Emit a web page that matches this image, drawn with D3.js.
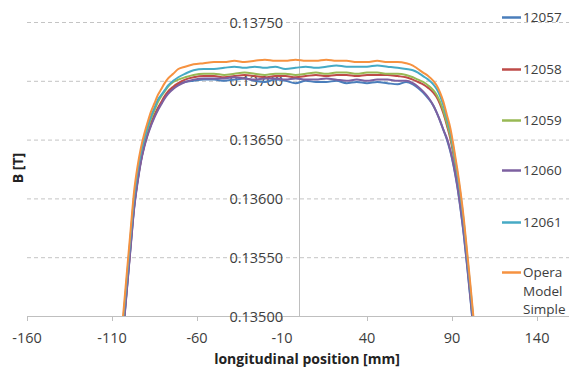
<!doctype html>
<html lang="en">
<head>
 <meta charset="utf-8">
 <script src="https://cdn.jsdelivr.net/npm/d3@7"></script>
 <title>B along longitudinal position</title>
 <style>
  body { margin: 0; background: #fff; }
  svg { display: block; font-family: "Open Sans", sans-serif; }
  .grid { stroke: #c4c4c4; stroke-width: 1; stroke-dasharray: 4,3; }
  .axisline { stroke: #bfbfbf; stroke-width: 1; }
  .tick-label { fill: #3d3d3d; font-size: 14.5px; }
  .title { fill: #222; font-size: 14px; font-weight: bold; }
  .series { fill: none; stroke-width: 2; }
  .legend-label { fill: #3d3d3d; font-size: 13.5px; }
 </style>
</head>
<body>
<div id="chart"></div>

<script>
    // positions along the magnet [mm]
    var pos = [-107, -105, -103, -101, -99, -97, -95, -93, -91, -89, -87, -85, -83, -81, -79, -77, -74, -71, -67, -62, -56,
               -50, -44, -38, -32, -26, -20, -14, -8, -2, 4, 10, 16, 22, 28, 34, 40, 46, 52, 58,
               63, 67, 70, 73, 76, 79, 81, 83, 85, 87, 89, 91, 93, 95, 97, 99, 101, 103, 105];

    var b12057 = [.13426, .13461, .13494, .13527, .13560, .13592, .13614, .13632, .13645, .13655, .13663, .13670, .13676, .13681, .13686, .13690, .13694, .13697, .13699, .13700, .13701,
                  .13701, .13700, .13701, .13702, .13700, .13699, .13701, .13700, .13698, .13700, .13699, .13699, .13700, .13698, .13699, .13698, .13699, .13698, .13697,
                  .13699, .13697, .13694, .13690, .13685, .13679, .13673, .13666, .13658, .13650, .13640, .13627, .13611, .13591, .13568, .13541, .13512, .13482, .13451];
    var b12058 = [.13427, .13462, .13495, .13528, .13561, .13593, .13615, .13632, .13645, .13655, .13664, .13671, .13677, .13682, .13687, .13691, .13695, .13698, .13701, .13703, .13704,
                  .13704, .13703, .13704, .13705, .13704, .13703, .13704, .13704, .13703, .13704, .13705, .13704, .13705, .13705, .13704, .13705, .13705, .13705, .13704,
                  .13703, .13701, .13699, .13697, .13694, .13690, .13686, .13680, .13672, .13662, .13651, .13636, .13618, .13598, .13574, .13545, .13516, .13485, .13454];
    var b12059 = [.13433, .13468, .13501, .13534, .13567, .13599, .13621, .13637, .13649, .13659, .13668, .13675, .13682, .13687, .13691, .13695, .13699, .13701, .13703, .13705, .13706,
                  .13706, .13705, .13706, .13707, .13706, .13705, .13706, .13706, .13705, .13706, .13707, .13706, .13707, .13707, .13706, .13707, .13707, .13706, .13706,
                  .13705, .13703, .13701, .13699, .13696, .13692, .13688, .13682, .13674, .13664, .13653, .13638, .13620, .13600, .13576, .13547, .13518, .13487, .13456];
    var b12060 = [.13425, .13460, .13493, .13526, .13559, .13591, .13613, .13631, .13644, .13654, .13662, .13669, .13675, .13680, .13685, .13689, .13693, .13696, .13699, .13701, .13702,
                  .13702, .13702, .13703, .13702, .13701, .13702, .13702, .13701, .13702, .13701, .13701, .13702, .13701, .13700, .13701, .13700, .13701, .13701, .13700,
                  .13700, .13698, .13695, .13691, .13686, .13679, .13673, .13666, .13658, .13651, .13641, .13628, .13612, .13592, .13569, .13542, .13513, .13483, .13452];
    var b12061 = [.13435, .13470, .13503, .13536, .13569, .13601, .13623, .13639, .13651, .13661, .13670, .13677, .13684, .13688, .13692, .13696, .13700, .13703, .13706, .13709, .13710,
                  .13710, .13711, .13712, .13711, .13712, .13711, .13712, .13710, .13711, .13712, .13711, .13712, .13713, .13712, .13712, .13712, .13713, .13712, .13711,
                  .13710, .13709, .13707, .13704, .13701, .13697, .13693, .13687, .13679, .13668, .13657, .13641, .13623, .13603, .13579, .13550, .13521, .13490, .13459];
    var bOpera = [.13440, .13475, .13508, .13541, .13574, .13606, .13627, .13643, .13655, .13665, .13674, .13681, .13688, .13693, .13698, .13702, .13706, .13710, .13712, .13714, .13715,
                  .13716, .13716, .13717, .13716, .13717, .13718, .13717, .13717, .13718, .13717, .13717, .13718, .13717, .13717, .13716, .13716, .13717, .13716, .13716,
                  .13715, .13713, .13710, .13707, .13704, .13700, .13696, .13690, .13682, .13671, .13660, .13644, .13626, .13606, .13582, .13553, .13524, .13493, .13462];

    var seriesNames  = ["12057", "12058", "12059", "12060", "12061", "Opera Model Simple"];
    var seriesValues = [b12057, b12058, b12059, b12060, b12061, bOpera];
    var seriesColors = ["#4a7ebb", "#be4b48", "#98b954", "#7d60a0", "#46aac5", "#f69240"];

    var xTicks = [-160, -110, -60, -10, 40, 90, 140];
    var yTicks = [0.1350, 0.1355, 0.1360, 0.1365, 0.1370, 0.1375];

    var width = 569, height = 369;

    var x = d3.scaleLinear().domain([-160, 160]).range([27, 571]);
    var y = d3.scaleLinear().domain([0.1350, 0.1375]).range([316, 22]);

    var svg = d3.select("#chart").append("svg")
        .attr("width", width)
        .attr("height", height);

    svg.append("defs").append("clipPath")
        .attr("id", "plot-clip")
        .append("rect")
        .attr("x", x(-160))
        .attr("y", 0)
        .attr("width", x(160) - x(-160))
        .attr("height", y(0.1350));

    // dashed gridlines (not at the bottom, the axis is there)
    svg.selectAll(".grid").data(yTicks.slice(1)).enter().append("line")
        .attr("class", "grid")
        .attr("x1", x(-160))
        .attr("x2", width)
        .attr("y1", function (d) { return y(d) + 0.5; })
        .attr("y2", function (d) { return y(d) + 0.5; });

    // horizontal axis
    svg.append("line")
        .attr("class", "axisline")
        .attr("x1", x(-160)).attr("x2", width)
        .attr("y1", y(0.1350) + 0.5).attr("y2", y(0.1350) + 0.5);

    svg.selectAll(".xtick").data(xTicks).enter().append("line")
        .attr("class", "axisline")
        .attr("x1", function (d) { return Math.round(x(d)) + 0.5; })
        .attr("x2", function (d) { return Math.round(x(d)) + 0.5; })
        .attr("y1", y(0.1350))
        .attr("y2", y(0.1350) + 5);

    // vertical axis crosses at 0
    svg.append("line")
        .attr("class", "axisline")
        .attr("x1", Math.round(x(0)) + 0.5).attr("x2", Math.round(x(0)) + 0.5)
        .attr("y1", y(0.1375)).attr("y2", y(0.1350));

    svg.selectAll(".xlabel").data(xTicks).enter().append("text")
        .attr("class", "tick-label")
        .attr("x", function (d) { return x(d); })
        .attr("y", 343)
        .attr("text-anchor", "middle")
        .text(function (d) { return d; });

    svg.selectAll(".ylabel").data(yTicks).enter().append("text")
        .attr("class", "tick-label")
        .attr("x", x(0) - 16)
        .attr("y", function (d) { return y(d) + 5.5; })
        .attr("text-anchor", "end")
        .text(function (d) { return d3.format(".5f")(d); });

    svg.append("text")
        .attr("class", "title")
        .attr("x", 307)
        .attr("y", 364)
        .attr("text-anchor", "middle")
        .text("longitudinal position [mm]");

    svg.append("text")
        .attr("class", "title")
        .attr("transform", "translate(23,168) rotate(-90)")
        .attr("text-anchor", "middle")
        .text("B [T]");

    // curves
    var line = d3.line()
        .x(function (d) { return x(d[0]); })
        .y(function (d) { return y(d[1]); })
        .curve(d3.curveMonotoneX);

    var plot = svg.append("g").attr("clip-path", "url(#plot-clip)");
    plot.selectAll(".series").data(seriesValues).enter().append("path")
        .attr("class", "series")
        .attr("stroke", function (d, i) { return seriesColors[i]; })
        .attr("d", function (vals) {
            return line(pos.map(function (p, j) { return [p, vals[j]]; }));
        });

    // legend
    var legendY = [17, 69, 120, 170, 222, 272];
    var legend = svg.selectAll(".legend").data(seriesNames).enter().append("g")
        .attr("transform", function (d, i) { return "translate(502," + legendY[i] + ")"; });

    legend.append("line")
        .attr("x1", 0).attr("x2", 19)
        .attr("y1", 0.5).attr("y2", 0.5)
        .attr("stroke-width", 2.5)
        .attr("stroke", function (d, i) { return seriesColors[i]; });

    legend.append("text")
        .attr("class", "legend-label")
        .attr("x", 21)
        .attr("y", 5)
        .each(function (d) {
            var words = d.split(" ");
            var t = d3.select(this);
            words.forEach(function (w, k) {
                t.append("tspan").attr("x", 21).attr("dy", k === 0 ? 0 : 18.5).text(w);
            });
        });
</script>
</body>
</html>
